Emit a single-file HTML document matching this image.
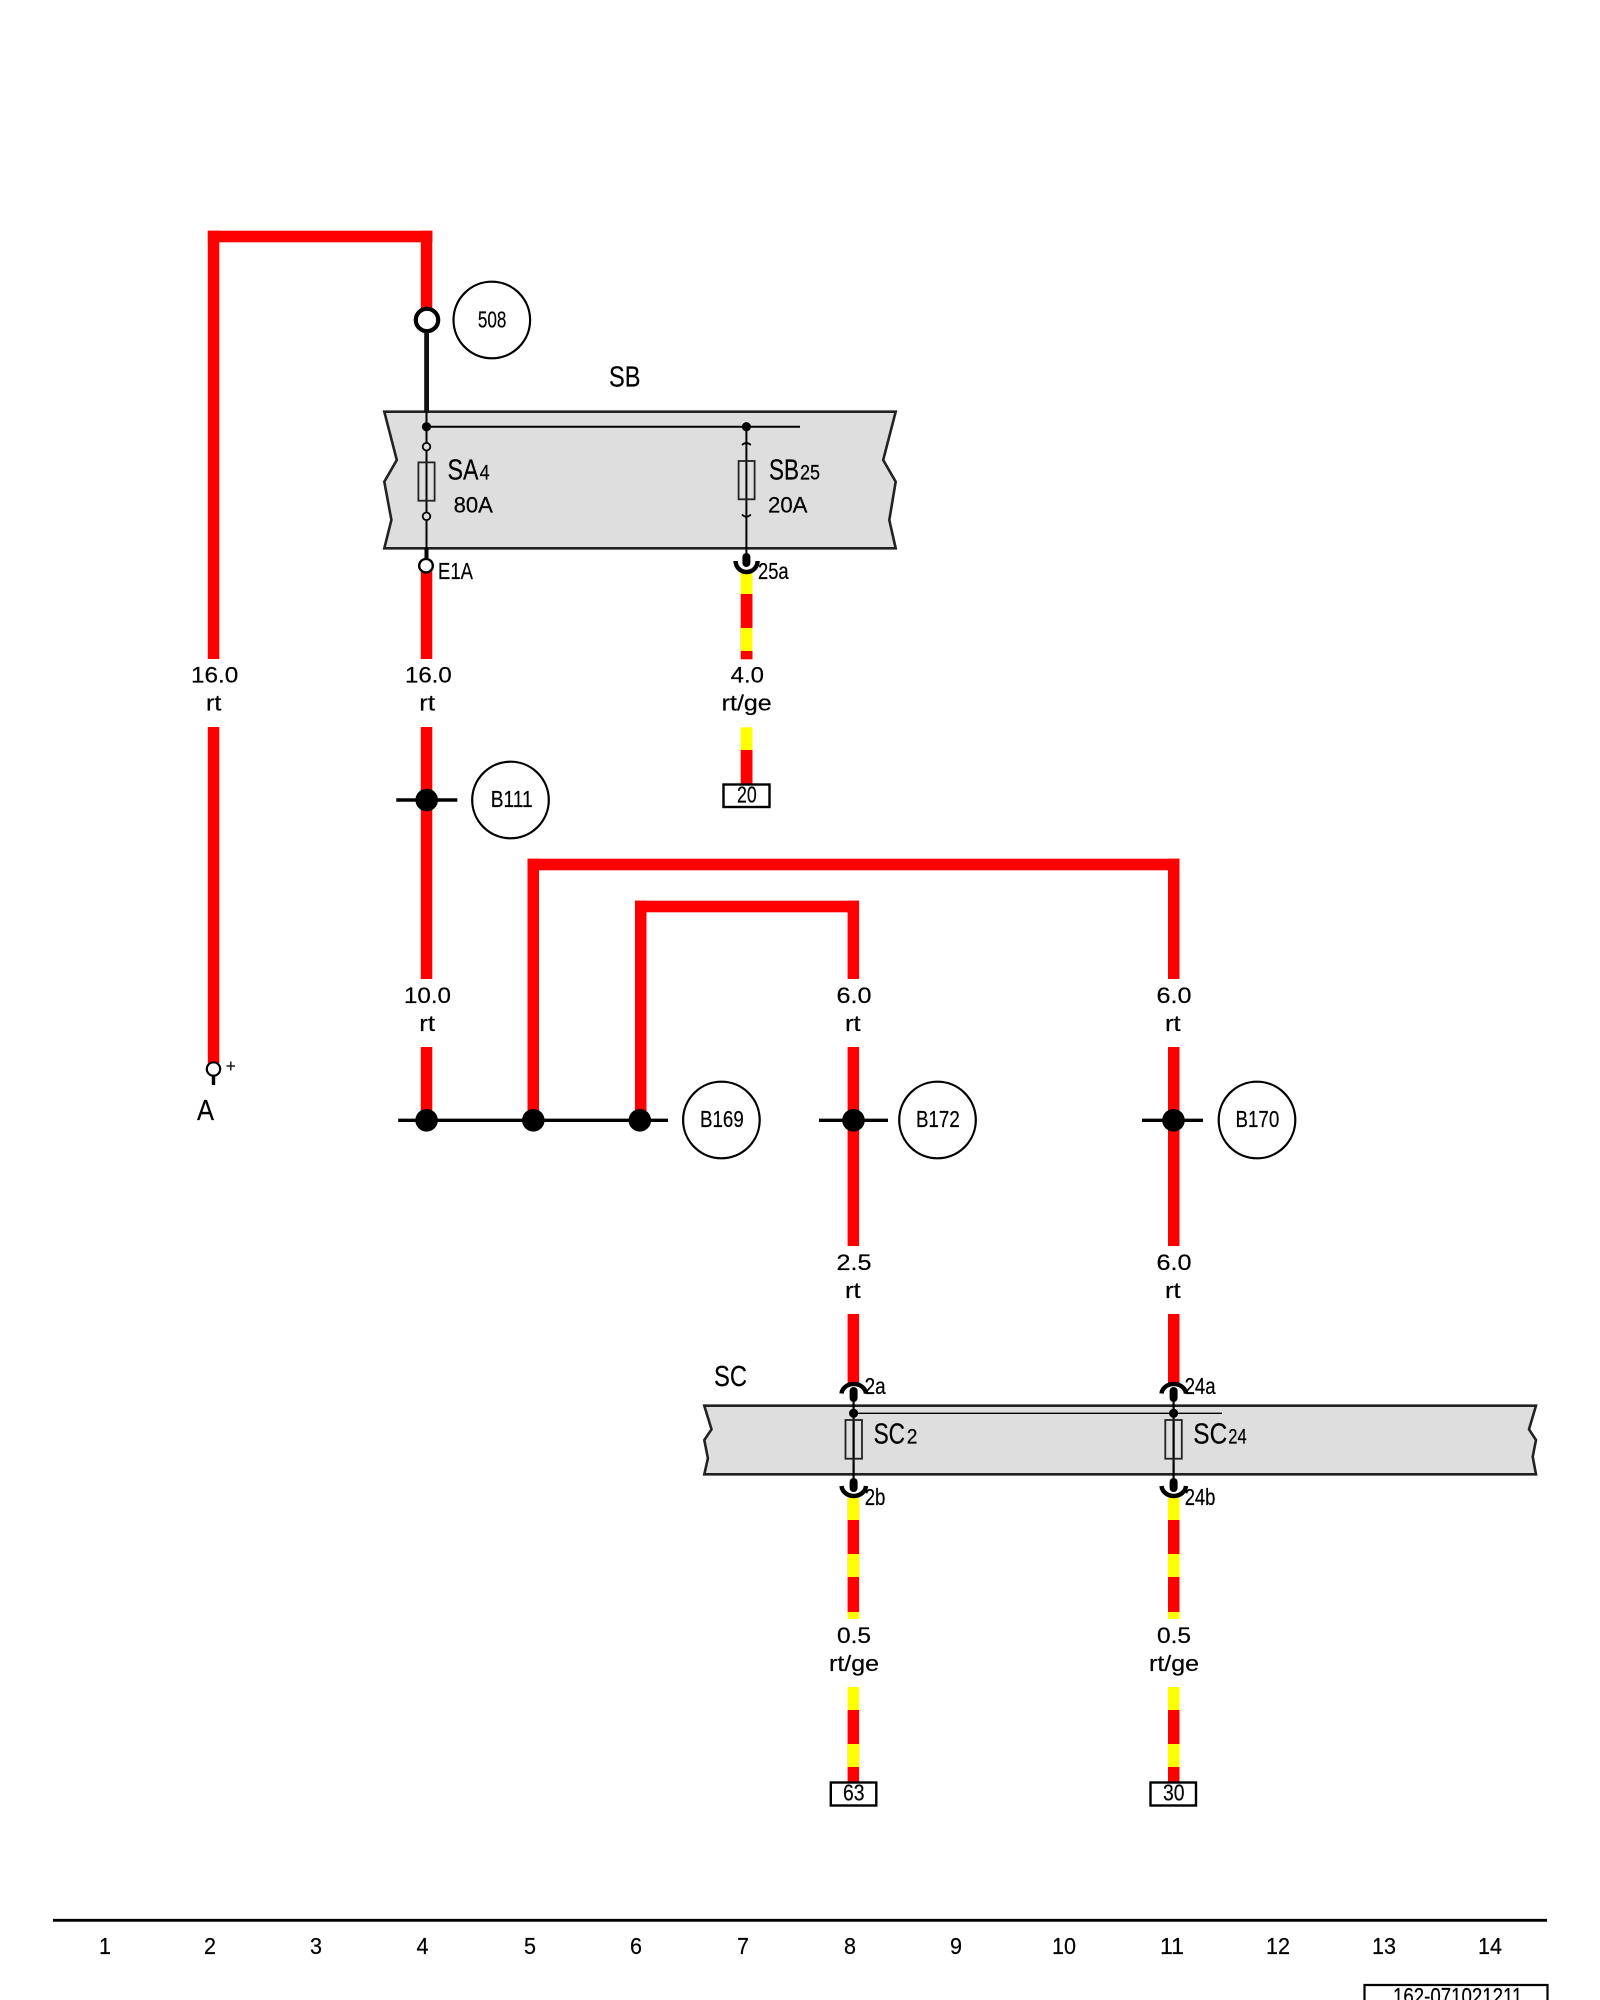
<!DOCTYPE html>
<html>
<head>
<meta charset="utf-8">
<style>
html,body{margin:0;padding:0;background:#fff;width:1600px;height:2000px;overflow:hidden}
svg{display:block}
text{font-family:"Liberation Sans",sans-serif;fill:#000;stroke:#000;stroke-width:.2px}
.l{font-size:22px}
.n{font-size:23.5px}
.t{font-size:28.5px}
.s{font-size:21px}
</style>
</head>
<body>
<svg width="1600" height="2000" viewBox="0 0 1600 2000" xmlns="http://www.w3.org/2000/svg">
<rect width="1600" height="2000" fill="#fff"/>

<!-- gray boxes -->
<path d="M384.3 411.7L396.8 460L384.3 481.7L391.4 520L384.3 548.3L895.7 548.3L889.3 520L895.7 481.7L883.2 460L895.7 411.7Z" fill="#dedede" stroke="#222" stroke-width="2.6"/>
<path d="M704.3 1405.7L711.5 1429.3L704.3 1440L707.9 1458.3L704.3 1474.3L1536 1474.3L1532.7 1456.7L1536 1440L1529 1429.3L1536 1405.7Z" fill="#dedede" stroke="#222" stroke-width="2.6"/>

<!-- red wires -->
<g fill="#ff0000">
<rect x="207.8" y="230.7" width="224.6" height="11.6"/>
<rect x="207.8" y="230.7" width="11.5" height="428.3"/>
<rect x="207.8" y="727" width="11.5" height="336"/>
<rect x="420.8" y="230.7" width="11.5" height="85"/>
<rect x="420.8" y="570" width="11.5" height="89"/>
<rect x="420.8" y="727" width="11.5" height="252"/>
<rect x="420.8" y="1047" width="11.5" height="73"/>
<rect x="527.5" y="858.7" width="652" height="11.6"/>
<rect x="527.5" y="858.7" width="11.5" height="261"/>
<rect x="1168" y="858.7" width="11.5" height="120.3"/>
<rect x="635" y="900.7" width="224" height="11.6"/>
<rect x="635" y="900.7" width="11.5" height="219"/>
<rect x="847.6" y="900.7" width="11.5" height="78.3"/>
<rect x="847.6" y="1047" width="11.5" height="199"/>
<rect x="847.6" y="1314" width="11.5" height="70"/>
<rect x="1168" y="1047" width="11.5" height="199"/>
<rect x="1168" y="1314" width="11.5" height="70"/>
<!-- column 7 stripes -->
<rect x="740.7" y="594" width="11.8" height="65.3"/>
<rect x="740.7" y="750" width="11.8" height="34"/>
<!-- column 8 stripes -->
<rect x="847.6" y="1498" width="11.5" height="114"/>
<rect x="847.6" y="1710" width="11.5" height="72"/>
<!-- column 11 stripes -->
<rect x="1168" y="1498" width="11.5" height="114"/>
<rect x="1168" y="1710" width="11.5" height="72"/>
</g>
<g fill="#ffff00">
<rect x="740.7" y="573" width="11.8" height="21"/>
<rect x="740.7" y="628" width="11.8" height="23"/>
<rect x="740.7" y="727.3" width="11.8" height="22.7"/>
<rect x="847.6" y="1498" width="11.5" height="22"/>
<rect x="847.6" y="1554" width="11.5" height="23"/>
<rect x="847.6" y="1612" width="11.5" height="7"/>
<rect x="847.6" y="1687" width="11.5" height="23"/>
<rect x="847.6" y="1744" width="11.5" height="23"/>
<rect x="1168" y="1498" width="11.5" height="22"/>
<rect x="1168" y="1554" width="11.5" height="23"/>
<rect x="1168" y="1612" width="11.5" height="7"/>
<rect x="1168" y="1687" width="11.5" height="23"/>
<rect x="1168" y="1744" width="11.5" height="23"/>
</g>

<!-- top of SB -->
<circle cx="427" cy="320" r="11.2" fill="#fff" stroke="#000" stroke-width="4.2"/>
<line x1="426.6" y1="332" x2="426.6" y2="412" stroke="#111" stroke-width="4.8"/>
<line x1="426.5" y1="412" x2="426.5" y2="550" stroke="#000" stroke-width="2"/>
<line x1="426.5" y1="426.7" x2="800" y2="426.7" stroke="#000" stroke-width="2"/>
<circle cx="426.5" cy="426.7" r="4.6" fill="#000"/>
<circle cx="746.4" cy="426.7" r="4.6" fill="#000"/>
<circle cx="426.5" cy="446.7" r="3.8" fill="#dedede" stroke="#000" stroke-width="1.8"/>
<circle cx="426.5" cy="516.3" r="3.8" fill="#dedede" stroke="#000" stroke-width="1.8"/>
<rect x="418.4" y="462.4" width="16.2" height="38.3" fill="none" stroke="#222" stroke-width="1.8"/>
<line x1="426.5" y1="548" x2="426.5" y2="560" stroke="#000" stroke-width="4"/>
<circle cx="426" cy="565.7" r="6.8" fill="#fff" stroke="#000" stroke-width="2.4"/>

<line x1="746.4" y1="427" x2="746.4" y2="553" stroke="#000" stroke-width="2"/>
<rect x="738.6" y="461" width="16" height="38.3" fill="none" stroke="#222" stroke-width="1.8"/>
<path d="M742 445Q746.4 441 750.8 445M742 514.5Q746.4 519 750.8 514.5" fill="none" stroke="#000" stroke-width="1.8"/>
<line x1="746.4" y1="557" x2="746.4" y2="563" stroke="#000" stroke-width="8" stroke-linecap="round"/>
<path d="M735.6 561A11 11 0 0 0 757.6 561" fill="none" stroke="#000" stroke-width="4.4"/>

<!-- connectors SC -->
<g stroke="#000" fill="none">
<path d="M841.5 1393.5A12.3 10.5 0 0 1 866 1393.5" stroke-width="4.4"/>
<path d="M1161.5 1393.5A12.3 10.5 0 0 1 1186 1393.5" stroke-width="4.4"/>
<path d="M841.5 1486A12.3 11 0 0 0 866 1486" stroke-width="4.4"/>
<path d="M1161.5 1486A12.3 11 0 0 0 1186 1486" stroke-width="4.4"/>
<line x1="853.6" y1="1391" x2="853.6" y2="1398" stroke-width="8" stroke-linecap="round"/>
<line x1="1173.6" y1="1391" x2="1173.6" y2="1398" stroke-width="8" stroke-linecap="round"/>
<line x1="853.6" y1="1482" x2="853.6" y2="1488" stroke-width="8" stroke-linecap="round"/>
<line x1="1173.6" y1="1482" x2="1173.6" y2="1488" stroke-width="8" stroke-linecap="round"/>
<line x1="853.6" y1="1398" x2="853.6" y2="1482" stroke-width="2.2"/>
<line x1="1173.6" y1="1398" x2="1173.6" y2="1482" stroke-width="2.2"/>
<line x1="853.6" y1="1413.3" x2="1222" y2="1413.3" stroke-width="1.3"/>
</g>
<circle cx="853.6" cy="1413.3" r="4.6" fill="#000"/>
<circle cx="1173.6" cy="1413.3" r="4.6" fill="#000"/>
<rect x="845.5" y="1420" width="16.5" height="38.7" fill="none" stroke="#222" stroke-width="1.8"/>
<rect x="1165.3" y="1420" width="16.5" height="38.7" fill="none" stroke="#222" stroke-width="1.8"/>

<!-- junctions -->
<g stroke="#000" stroke-width="3.4">
<line x1="396.3" y1="800" x2="457.3" y2="800"/>
<line x1="398.2" y1="1120.3" x2="668" y2="1120.3"/>
<line x1="819" y1="1120.3" x2="888" y2="1120.3"/>
<line x1="1142" y1="1120.3" x2="1203" y2="1120.3"/>
</g>
<g fill="#000">
<circle cx="426.7" cy="800" r="11.3"/>
<circle cx="426.6" cy="1120.3" r="11.3"/>
<circle cx="533.3" cy="1120.3" r="11.3"/>
<circle cx="639.8" cy="1120.3" r="11.3"/>
<circle cx="853.5" cy="1120.3" r="11.3"/>
<circle cx="1173.5" cy="1120.3" r="11.3"/>
</g>

<!-- A terminal -->
<line x1="213.5" y1="1072" x2="213.5" y2="1085" stroke="#000" stroke-width="3.4"/>
<circle cx="213.5" cy="1069" r="6.7" fill="#fff" stroke="#000" stroke-width="2.2"/>
<line x1="226.5" y1="1066" x2="235" y2="1066" stroke="#111" stroke-width="1.4"/>
<line x1="230.8" y1="1061.5" x2="230.8" y2="1070.5" stroke="#111" stroke-width="1.4"/>

<!-- reference circles -->
<g fill="#fff" stroke="#000" stroke-width="2.2">
<circle cx="491.8" cy="320" r="38.3"/>
<circle cx="510.5" cy="800" r="38.3"/>
<circle cx="721.4" cy="1120" r="38.3"/>
<circle cx="937.5" cy="1120" r="38.3"/>
<circle cx="1257" cy="1120" r="38.3"/>
</g>

<!-- terminal boxes -->
<g fill="#fff" stroke="#000" stroke-width="2.4">
<rect x="723.5" y="784.5" width="46" height="22.5"/>
<rect x="830.8" y="1782.5" width="45.5" height="23"/>
<rect x="1150.5" y="1782.5" width="45.5" height="23"/>
</g>

<!-- bottom rule -->
<line x1="53" y1="1920.3" x2="1547" y2="1920.3" stroke="#000" stroke-width="2.8"/>
<path d="M1364.5 2000V1985H1547.5V2000" fill="none" stroke="#000" stroke-width="2.2"/>

<!-- text -->
<text class="n" x="477.9" y="327.5" textLength="28.5" lengthAdjust="spacingAndGlyphs">508</text>
<text class="t" x="609" y="386.7" textLength="31.4" lengthAdjust="spacingAndGlyphs">SB</text>
<text class="t" x="447.5" y="479.5" textLength="31" lengthAdjust="spacingAndGlyphs">SA</text>
<text class="s" x="479.6" y="479.5" textLength="10" lengthAdjust="spacingAndGlyphs">4</text>
<text class="l" x="453.6" y="512.7" textLength="39.3" lengthAdjust="spacingAndGlyphs">80A</text>
<text class="t" x="769" y="479.5" textLength="30" lengthAdjust="spacingAndGlyphs">SB</text>
<text class="s" x="800" y="479.5" textLength="20" lengthAdjust="spacingAndGlyphs">25</text>
<text class="l" x="768" y="512.7" textLength="39.5" lengthAdjust="spacingAndGlyphs">20A</text>
<text class="n" x="438" y="579" textLength="34.9" lengthAdjust="spacingAndGlyphs">E1A</text>
<text class="n" x="758" y="579" textLength="30.6" lengthAdjust="spacingAndGlyphs">25a</text>

<text class="l" x="191" y="682.7" textLength="47.3" lengthAdjust="spacingAndGlyphs">16.0</text>
<text class="l" x="206" y="710.7" textLength="15.3" lengthAdjust="spacingAndGlyphs">rt</text>
<text class="l" x="405" y="682.7" textLength="46.7" lengthAdjust="spacingAndGlyphs">16.0</text>
<text class="l" x="419.3" y="710.7" textLength="15.7" lengthAdjust="spacingAndGlyphs">rt</text>
<text class="l" x="730.7" y="682.7" textLength="33.3" lengthAdjust="spacingAndGlyphs">4.0</text>
<text class="l" x="721.7" y="710.7" textLength="50" lengthAdjust="spacingAndGlyphs">rt/ge</text>
<text class="n" x="737" y="802.7" textLength="19.7" lengthAdjust="spacingAndGlyphs">20</text>
<text class="n" x="490.7" y="807" textLength="42" lengthAdjust="spacingAndGlyphs">B111</text>

<text class="l" x="404" y="1003" textLength="47" lengthAdjust="spacingAndGlyphs">10.0</text>
<text class="l" x="419.3" y="1031" textLength="15.7" lengthAdjust="spacingAndGlyphs">rt</text>
<text class="l" x="836.5" y="1003" textLength="35" lengthAdjust="spacingAndGlyphs">6.0</text>
<text class="l" x="845" y="1031" textLength="15.7" lengthAdjust="spacingAndGlyphs">rt</text>
<text class="l" x="1156.5" y="1003" textLength="35" lengthAdjust="spacingAndGlyphs">6.0</text>
<text class="l" x="1165" y="1031" textLength="15.7" lengthAdjust="spacingAndGlyphs">rt</text>

<text class="t" x="197" y="1120" textLength="17" lengthAdjust="spacingAndGlyphs">A</text>
<text class="n" x="700" y="1127" textLength="43.8" lengthAdjust="spacingAndGlyphs">B169</text>
<text class="n" x="916" y="1127" textLength="43.8" lengthAdjust="spacingAndGlyphs">B172</text>
<text class="n" x="1235.5" y="1127" textLength="43.8" lengthAdjust="spacingAndGlyphs">B170</text>

<text class="l" x="836.5" y="1270" textLength="35" lengthAdjust="spacingAndGlyphs">2.5</text>
<text class="l" x="845" y="1298" textLength="15.7" lengthAdjust="spacingAndGlyphs">rt</text>
<text class="l" x="1156.5" y="1270" textLength="35" lengthAdjust="spacingAndGlyphs">6.0</text>
<text class="l" x="1165" y="1298" textLength="15.7" lengthAdjust="spacingAndGlyphs">rt</text>

<text class="t" x="714" y="1386" textLength="33" lengthAdjust="spacingAndGlyphs">SC</text>
<text class="n" x="864.6" y="1394" textLength="21" lengthAdjust="spacingAndGlyphs">2a</text>
<text class="n" x="1184.6" y="1394" textLength="31" lengthAdjust="spacingAndGlyphs">24a</text>
<text class="t" x="873.6" y="1443.3" textLength="31.4" lengthAdjust="spacingAndGlyphs">SC</text>
<text class="s" x="906.8" y="1443.3" textLength="10.7" lengthAdjust="spacingAndGlyphs">2</text>
<text class="t" x="1193.3" y="1443.3" textLength="34" lengthAdjust="spacingAndGlyphs">SC</text>
<text class="s" x="1228.3" y="1443.3" textLength="18.4" lengthAdjust="spacingAndGlyphs">24</text>
<text class="n" x="864.7" y="1505" textLength="20.7" lengthAdjust="spacingAndGlyphs">2b</text>
<text class="n" x="1184.7" y="1505" textLength="30.7" lengthAdjust="spacingAndGlyphs">24b</text>

<text class="l" x="837" y="1643" textLength="34" lengthAdjust="spacingAndGlyphs">0.5</text>
<text class="l" x="829" y="1671" textLength="50" lengthAdjust="spacingAndGlyphs">rt/ge</text>
<text class="l" x="1157" y="1643" textLength="34" lengthAdjust="spacingAndGlyphs">0.5</text>
<text class="l" x="1149" y="1671" textLength="50" lengthAdjust="spacingAndGlyphs">rt/ge</text>
<text class="n" x="843" y="1800.7" textLength="21.5" lengthAdjust="spacingAndGlyphs">63</text>
<text class="n" x="1163" y="1800.7" textLength="21.5" lengthAdjust="spacingAndGlyphs">30</text>

<g text-anchor="middle">
<text class="n" x="105" y="1954" textLength="12" lengthAdjust="spacingAndGlyphs">1</text>
<text class="n" x="210" y="1954" textLength="12" lengthAdjust="spacingAndGlyphs">2</text>
<text class="n" x="316" y="1954" textLength="12" lengthAdjust="spacingAndGlyphs">3</text>
<text class="n" x="422.5" y="1954" textLength="12" lengthAdjust="spacingAndGlyphs">4</text>
<text class="n" x="530" y="1954" textLength="12" lengthAdjust="spacingAndGlyphs">5</text>
<text class="n" x="636" y="1954" textLength="12" lengthAdjust="spacingAndGlyphs">6</text>
<text class="n" x="743" y="1954" textLength="12" lengthAdjust="spacingAndGlyphs">7</text>
<text class="n" x="850" y="1954" textLength="12" lengthAdjust="spacingAndGlyphs">8</text>
<text class="n" x="956" y="1954" textLength="12" lengthAdjust="spacingAndGlyphs">9</text>
<text class="n" x="1064" y="1954" textLength="24" lengthAdjust="spacingAndGlyphs">10</text>
<text class="n" x="1172" y="1954" textLength="24" lengthAdjust="spacingAndGlyphs">11</text>
<text class="n" x="1278" y="1954" textLength="24" lengthAdjust="spacingAndGlyphs">12</text>
<text class="n" x="1384" y="1954" textLength="24" lengthAdjust="spacingAndGlyphs">13</text>
<text class="n" x="1490" y="1954" textLength="24" lengthAdjust="spacingAndGlyphs">14</text>
</g>
<text class="n" x="1393" y="2004" textLength="129.4" lengthAdjust="spacingAndGlyphs">162-071021211</text>
</svg>
</body>
</html>
